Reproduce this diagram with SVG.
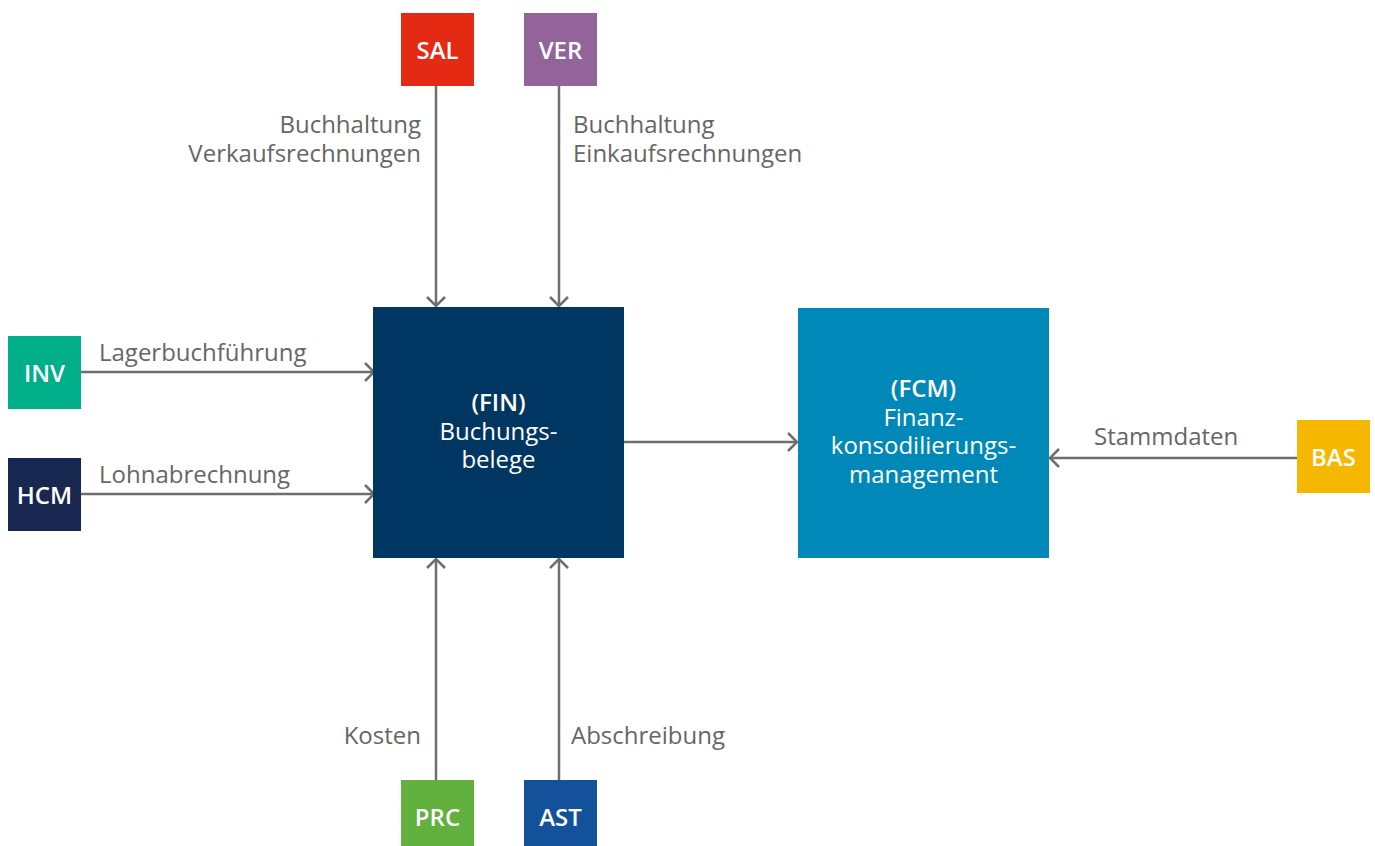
<svg xmlns="http://www.w3.org/2000/svg" width="1375" height="846" viewBox="0 0 1375 846">
  <style>
    .tag { font-family: "Open Sans", "Noto Sans", sans-serif; font-weight: 600; font-size: 24px; fill: #ffffff; text-anchor: middle; }
    .title { font-family: "Open Sans", "Noto Sans", sans-serif; font-size: 24px; fill: #ffffff; text-anchor: middle; }
    .title .b { font-weight: 600; }
    .lbl { font-family: "Open Sans", "Noto Sans", sans-serif; font-size: 24px; fill: #666666; }
    .wire { stroke: #6e6e6e; stroke-width: 2.5; fill: none; marker-end: url(#chev); }
  </style>
  <defs>
    <marker id="chev" markerUnits="userSpaceOnUse" markerWidth="24" markerHeight="24" viewBox="-12 -12 24 24" refX="0" refY="0" orient="auto">
      <path d="M-9,-9 L0,0 L-9,9" fill="none" stroke="#6e6e6e" stroke-width="2.5"/>
    </marker>
  </defs>
  <rect width="1375" height="846" fill="#ffffff"/>

  <!-- connectors -->
  <g id="connectors">
    <path class="wire" d="M436,86 V306"/>
    <path class="wire" d="M559,86 V306"/>
    <path class="wire" d="M81,372 H374"/>
    <path class="wire" d="M81,494 H374"/>
    <path class="wire" d="M436,780 V559"/>
    <path class="wire" d="M559,780 V559"/>
    <path class="wire" d="M624,442 H797"/>
    <path class="wire" d="M1297,458 H1050"/>
    <text class="lbl" x="421" y="133" text-anchor="end">Buchhaltung</text>
    <text class="lbl" x="421" y="162" text-anchor="end">Verkaufsrechnungen</text>
    <text class="lbl" x="573" y="133">Buchhaltung</text>
    <text class="lbl" x="573" y="162">Einkaufsrechnungen</text>
    <text class="lbl" x="99" y="361">Lagerbuchführung</text>
    <text class="lbl" x="99" y="483">Lohnabrechnung</text>
    <text class="lbl" x="421" y="744" text-anchor="end">Kosten</text>
    <text class="lbl" x="571" y="744">Abschreibung</text>
    <text class="lbl" x="1094" y="445">Stammdaten</text>
  </g>

  <g id="SAL">
    <rect x="401" y="13" width="73" height="73" fill="#e42a12"/>
    <text class="tag" x="437.5" y="59">SAL</text>
  </g>
  <g id="VER">
    <rect x="524" y="13" width="73" height="73" fill="#936499"/>
    <text class="tag" x="560.5" y="59">VER</text>
  </g>
  <g id="INV">
    <rect x="8" y="336" width="73" height="73" fill="#00ae8a"/>
    <text class="tag" x="44.5" y="382">INV</text>
  </g>
  <g id="HCM">
    <rect x="8" y="458" width="73" height="73" fill="#182750"/>
    <text class="tag" x="44.5" y="504">HCM</text>
  </g>
  <g id="FIN">
    <rect x="373" y="307" width="251" height="251" fill="#003662"/>
    <text class="title" x="498.5" y="411"><tspan class="b">(FIN)</tspan><tspan x="498.5" dy="28.5">Buchungs-</tspan><tspan x="498.5" dy="28.5">belege</tspan></text>
  </g>
  <g id="FCM">
    <rect x="798" y="308" width="251" height="250" fill="#0089b8"/>
    <text class="title" x="923.5" y="397"><tspan class="b">(FCM)</tspan><tspan x="923.5" dy="28.5">Finanz-</tspan><tspan x="923.5" dy="28.5">konsodilierungs-</tspan><tspan x="923.5" dy="28.5">management</tspan></text>
  </g>
  <g id="BAS">
    <rect x="1297" y="420" width="73" height="73" fill="#f6b700"/>
    <text class="tag" x="1333.5" y="466">BAS</text>
  </g>
  <g id="PRC">
    <rect x="401" y="780" width="73" height="73" fill="#62b13e"/>
    <text class="tag" x="437.5" y="826">PRC</text>
  </g>
  <g id="AST">
    <rect x="524" y="780" width="73" height="73" fill="#13529b"/>
    <text class="tag" x="560.5" y="826">AST</text>
  </g>
</svg>
